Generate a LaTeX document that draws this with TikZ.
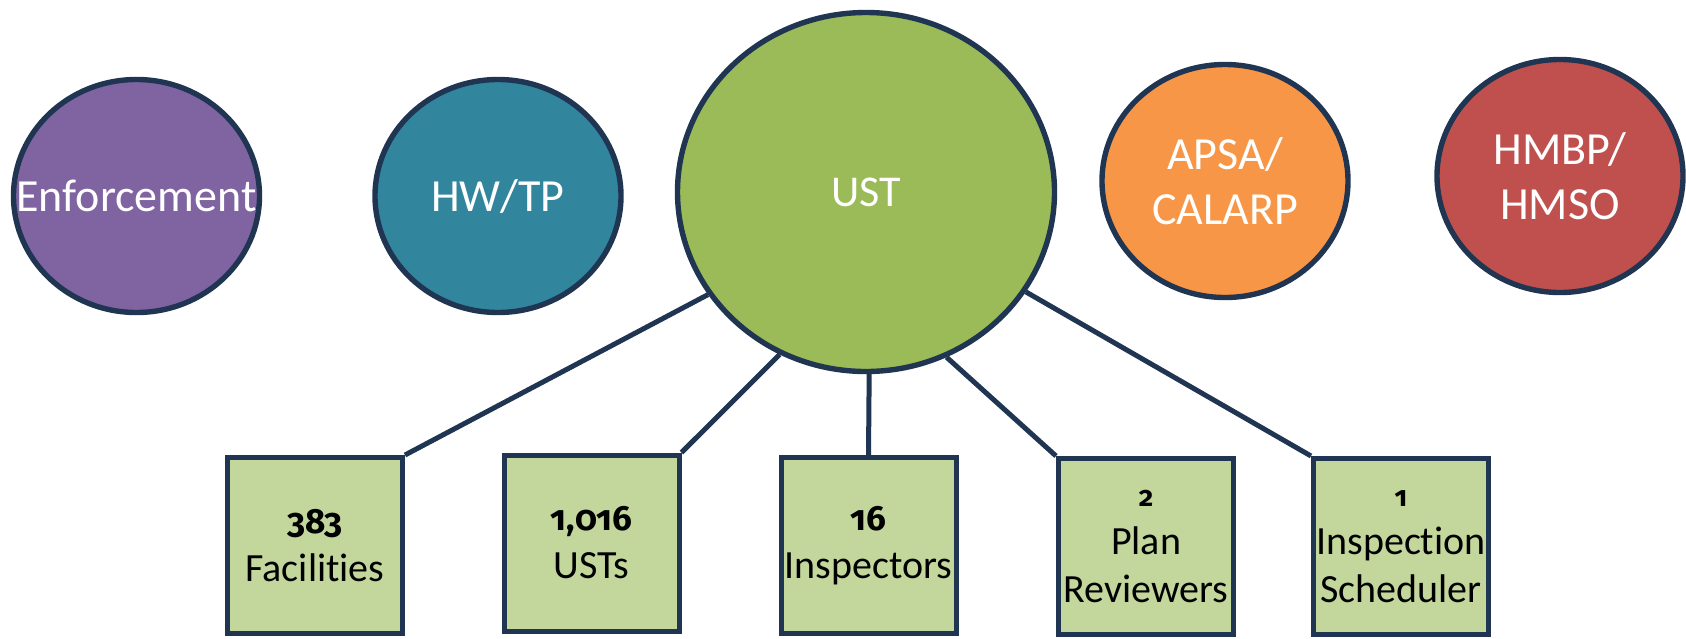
\documentclass[tikz,border=0pt]{standalone}
\usepackage{fontspec}
\setmainfont[Ligatures=NoCommon]{Carlito}
\newfontfamily\numfont[Numbers=OldStyle]{Fira Sans}
\usetikzlibrary{shapes.geometric}
\definecolor{edge}{HTML}{1F3552}
\definecolor{cpurple}{HTML}{8064A2}
\definecolor{cteal}{HTML}{31859C}
\definecolor{cgreen}{HTML}{9BBB59}
\definecolor{corange}{HTML}{F79646}
\definecolor{cred}{HTML}{C0504D}
\definecolor{cbox}{HTML}{C3D69B}
\newcommand\bignum[1]{{\fontsize{17.5}{24}\selectfont\numfont\bfseries #1}}
\newcommand\smallnum[1]{{\fontsize{14}{24}\selectfont\numfont\bfseries #1}}
\tikzset{
  circ/.style={ellipse, draw=edge, line width=2.7pt, inner sep=0pt, text=white,
    align=center, font=\fontsize{23}{27.5}\selectfont,
    minimum width=123pt, minimum height=116.5pt},
  box/.style={rectangle, draw=edge, line width=2.5pt, fill=cbox, inner sep=0pt,
    minimum width=87.5pt, minimum height=88pt, align=center, text=black,
    font=\fontsize{20}{24}\selectfont},
  link/.style={draw=edge, line width=2.5pt}
}
\begin{document}
\begin{tikzpicture}[x=0.5pt,y=-0.5pt]
\useasboundingbox (0,0) rectangle (1686,638);
\node[circ, fill=cpurple] (enf) at (136.5,196) {\makebox[0pt]{Enforcement}};
\node[circ, fill=cteal] (hw) at (498,196) {HW/TP};
\node[circ, fill=cgreen, minimum width=188.5pt, minimum height=179.5pt,
      font=\fontsize{22}{27}\selectfont] (ust) at (866,192) {UST};
\node[circ, fill=corange] (apsa) at (1225,181) {APSA/\\CALARP};
\node[circ, fill=cred] (hmbp) at (1560,176) {HMBP/\\HMSO};

\node[box] (b1) at (315,545.5) {\bignum{383}\\Facilities};
\node[box] (b2) at (591.5,543) {\bignum{1,016}\\USTs};
\node[box] (b3) at (868.5,545.5) {\bignum{16}\\Inspectors};
\node[box] (b4) at (1146,546.5) {\smallnum{2}\\Plan\\Reviewers};
\node[box] (b5) at (1401,546.5) {\smallnum{1}\\Inspection\\Scheduler};

\draw[link] (ust.213.7) -- (b1.north east);
\draw[link] (ust.242.6) -- (b2.north east);
\draw[link] (ust.271) -- (b3.north);
\draw[link] (ust.296.1) -- (b4.north west);
\draw[link] (ust.328.2) -- (b5.north west);
\end{tikzpicture}
\end{document}
